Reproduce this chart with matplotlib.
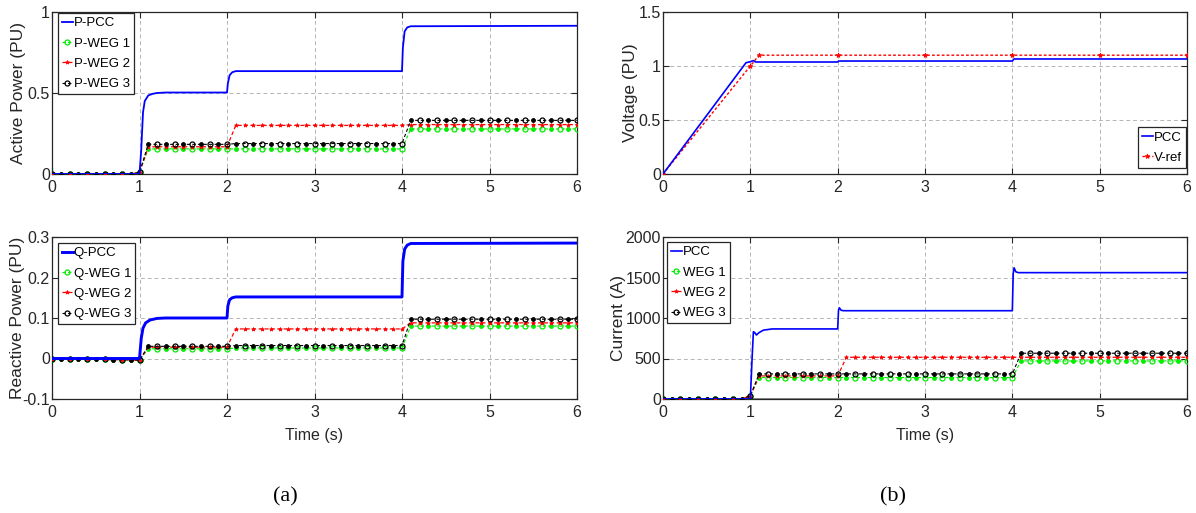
import numpy as np
import matplotlib
matplotlib.use("Agg")
import matplotlib.pyplot as plt
from matplotlib import font_manager

plt.rcParams['font.family'] = ['Liberation Sans', 'DejaVu Sans']
_names = {f.name for f in font_manager.fontManager.ttflist}
NARROW = 'Liberation Sans Narrow' if 'Liberation Sans Narrow' in _names else 'Liberation Sans'

# ---------------- data ----------------
# sample times (0.1 s) for the WEG traces
t_s = np.round(np.arange(0, 6.0001, 0.1), 2)

# Active power (PU)
t_ppcc = [0, 1.0, 1.02, 1.04, 1.06, 1.1, 1.15, 1.2, 1.3, 2.0, 2.01, 2.03, 2.06, 2.1,
          4.0, 4.01, 4.03, 4.06, 4.1, 6.0]
p_pcc = [0, 0, 0.15, 0.38, 0.45, 0.485, 0.495, 0.5, 0.503, 0.503, 0.56, 0.61, 0.628, 0.635,
         0.635, 0.78, 0.88, 0.905, 0.912, 0.915]
p_weg1 = [0.0] * 10 + [0.01] + [0.155] * 10 + [0.155] * 20 + [0.278] * 20
p_weg2 = [0.0] * 10 + [0.01] + [0.168] * 10 + [0.300] * 20 + [0.305] * 20
p_weg3 = [0.0] * 10 + [0.01] + [0.183] * 10 + [0.188] * 20 + [0.331] * 20

# Reactive power (PU)
t_qpcc = [0, 1.0, 1.02, 1.04, 1.07, 1.12, 1.2, 1.3, 2.0, 2.01, 2.03, 2.06, 2.1,
          4.0, 4.01, 4.03, 4.06, 4.1, 6.0]
q_pcc = [0, 0, 0.05, 0.075, 0.088, 0.095, 0.099, 0.1, 0.1, 0.13, 0.145, 0.15, 0.152,
         0.152, 0.24, 0.27, 0.28, 0.284, 0.285]
q_pre = [0, 0, 0, 0, 0, -0.002, -0.002, -0.003, -0.003, -0.004, -0.004]
q_weg1 = q_pre + [0.024] * 10 + [0.026] * 20 + [0.080] * 20
q_weg2 = q_pre + [0.028] * 10 + [0.073] * 20 + [0.088] * 20
q_weg3 = q_pre + [0.030] * 10 + [0.032] * 20 + [0.097] * 20

# Voltage (PU)
t_vpcc = [0, 0.95, 1.0, 1.035, 1.06, 2.0, 2.01, 4.0, 4.02, 6.0]
v_pcc = [0, 1.03, 1.04, 1.05, 1.037, 1.037, 1.046, 1.046, 1.065, 1.065]
t_vref = [0, 1.0, 1.1, 2, 3, 4, 5, 6]
v_ref = [0, 1.0, 1.1, 1.1, 1.1, 1.1, 1.1, 1.1]

# Current (A)
t_ipcc = [0, 1.0, 1.02, 1.035, 1.05, 1.07, 1.1, 1.15, 1.25, 2.0, 2.01, 2.02, 2.04, 2.07,
          4.0, 4.01, 4.02, 4.04, 4.07, 6.0]
i_pcc = [0, 0, 500, 830, 820, 790, 820, 850, 865, 865, 1100, 1125, 1095, 1090,
         1090, 1550, 1620, 1570, 1560, 1560]
i_weg1 = [0.0] * 10 + [40] + [265] * 10 + [265] * 20 + [470] * 20
i_weg2 = [0.0] * 10 + [40] + [285] * 10 + [515] * 20 + [515] * 20
i_weg3 = [0.0] * 10 + [40] + [310] * 10 + [310] * 20 + [565] * 20

labels_p = ['P-PCC', 'P-WEG 1', 'P-WEG 2', 'P-WEG 3']
labels_q = ['Q-PCC', 'Q-WEG 1', 'Q-WEG 2', 'Q-WEG 3']
labels_v = ['PCC', 'V-ref']
labels_i = ['PCC', 'WEG 1', 'WEG 2', 'WEG 3']

# ---------------- style ----------------
BLUE, GREEN, RED, BLACK = '#0000ff', '#00ee00', '#ff0000', '#000000'
TXT = '#262626'

fig = plt.figure(figsize=(11.96, 5.13), dpi=100)
W, H = 1196, 513


def mkax(x0, y0, x1, y1):
    return fig.add_axes([x0 / W, 1 - y1 / H, (x1 - x0) / W, (y1 - y0) / H])


ax_p = mkax(52, 12, 577, 174)
ax_q = mkax(52, 237, 577, 399)
ax_v = mkax(663, 12, 1187, 174)
ax_i = mkax(663, 237, 1187, 399)


def style(ax, ylim, yticks, ylabel, label_x, xlabel=None):
    ax.set_xlim(0, 6)
    ax.set_ylim(*ylim)
    ax.set_xticks(range(7))
    ax.set_yticks(yticks)
    ax.grid(True, color='#b5b5b5', linestyle=(0, (4, 3)), linewidth=0.7)
    ax.set_axisbelow(True)
    ax.tick_params(direction='in', top=True, right=True, length=4, width=0.8,
                   labelsize=11.5, colors=TXT)
    ax.tick_params(axis='y', pad=1.5)
    ax.tick_params(axis='x', pad=4)
    for s in ax.spines.values():
        s.set_linewidth(0.9)
        s.set_color(TXT)
    ax.set_ylabel(ylabel, fontsize=12.5, color=TXT)
    bb = ax.get_position()
    ax.yaxis.set_label_coords((label_x / W - bb.x0) / bb.width, 0.5)
    if xlabel:
        ax.set_xlabel(xlabel, fontsize=11.5, color=TXT, labelpad=6, family=NARROW)


def weg(ax, y, color, label, marker='o'):
    if marker == 'o':
        ax.plot(t_s, y, color=color, ls=(0, (3, 2)), lw=0.8, marker='o', ms=3.6,
                mfc='none', mew=0.9, markevery=(0, 2), label=label, zorder=3)
        ax.plot(t_s, y, color=color, ls='none', marker='o', ms=2.8,
                mfc=color, mew=0.6, markevery=(1, 2), zorder=3)
    else:
        ax.plot(t_s, y, color=color, ls=(0, (3, 2)), lw=0.9, marker='*', ms=3.0,
                mew=0.5, markevery=1, label=label, zorder=3)


def legend(ax, loc, anchor_px):
    bb = ax.get_position()
    ax_x = (anchor_px[0] / W - bb.x0) / bb.width
    ax_y = ((1 - anchor_px[1] / H) - bb.y0) / bb.height
    leg = ax.legend(loc=loc, bbox_to_anchor=(ax_x, ax_y), fontsize=9.5,
                    frameon=True, fancybox=False, edgecolor=TXT, framealpha=1,
                    handlelength=0.8, handletextpad=0.1, borderpad=0.3,
                    labelspacing=0.62, borderaxespad=0.0)
    leg.get_frame().set_linewidth(0.9)


# Active power
ax_p.plot(t_ppcc, p_pcc, color=BLUE, lw=1.3, label=labels_p[0], zorder=4)
weg(ax_p, p_weg1, GREEN, labels_p[1])
weg(ax_p, p_weg2, RED, labels_p[2], marker='*')
weg(ax_p, p_weg3, BLACK, labels_p[3])
style(ax_p, (0, 1), [0, 0.5, 1], 'Active Power (PU)', 26)
ax_p.set_yticklabels(['0', '0.5', '1'])
legend(ax_p, 'upper left', (58, 13))

# Reactive power
ax_q.plot(t_qpcc, q_pcc, color=BLUE, lw=2.1, label=labels_q[0], zorder=4)
weg(ax_q, q_weg1, GREEN, labels_q[1])
weg(ax_q, q_weg2, RED, labels_q[2], marker='*')
weg(ax_q, q_weg3, BLACK, labels_q[3])
style(ax_q, (-0.1, 0.3), [-0.1, 0, 0.1, 0.2, 0.3], 'Reactive Power (PU)', 25, 'Time (s)')
ax_q.set_yticklabels(['-0.1', '0', '0.1', '0.2', '0.3'])
legend(ax_q, 'upper left', (58, 243))

# Voltage
ax_v.plot(t_vpcc, v_pcc, color=BLUE, lw=1.2, label=labels_v[0], zorder=4)
ax_v.plot(t_vref, v_ref, color=RED, ls=(0, (2, 1.5)), lw=1.0, marker='*', ms=3.5,
          mew=0.6, label=labels_v[1], zorder=3)
style(ax_v, (0, 1.5), [0, 0.5, 1, 1.5], 'Voltage (PU)', 638)
ax_v.set_yticklabels(['0', '0.5', '1', '1.5'])
legend(ax_v, 'lower right', (1186, 168))

# Current
ax_i.axhline(0, color='#808080', lw=2.0, zorder=2)
ax_i.plot(t_ipcc, i_pcc, color=BLUE, lw=1.2, label=labels_i[0], zorder=4)
weg(ax_i, i_weg1, GREEN, labels_i[1])
weg(ax_i, i_weg2, RED, labels_i[2], marker='*')
weg(ax_i, i_weg3, BLACK, labels_i[3])
style(ax_i, (0, 2000), [0, 500, 1000, 1500, 2000], 'Current (A)', 626, 'Time (s)')
legend(ax_i, 'upper left', (667, 242))

fig.text(285 / W, 1 - 497 / H, '(a)', ha='center', va='center',
         fontsize=16, family='Liberation Serif')
fig.text(893 / W, 1 - 497 / H, '(b)', ha='center', va='center',
         fontsize=16, family='Liberation Serif')

fig.savefig('out.png', dpi=100)
